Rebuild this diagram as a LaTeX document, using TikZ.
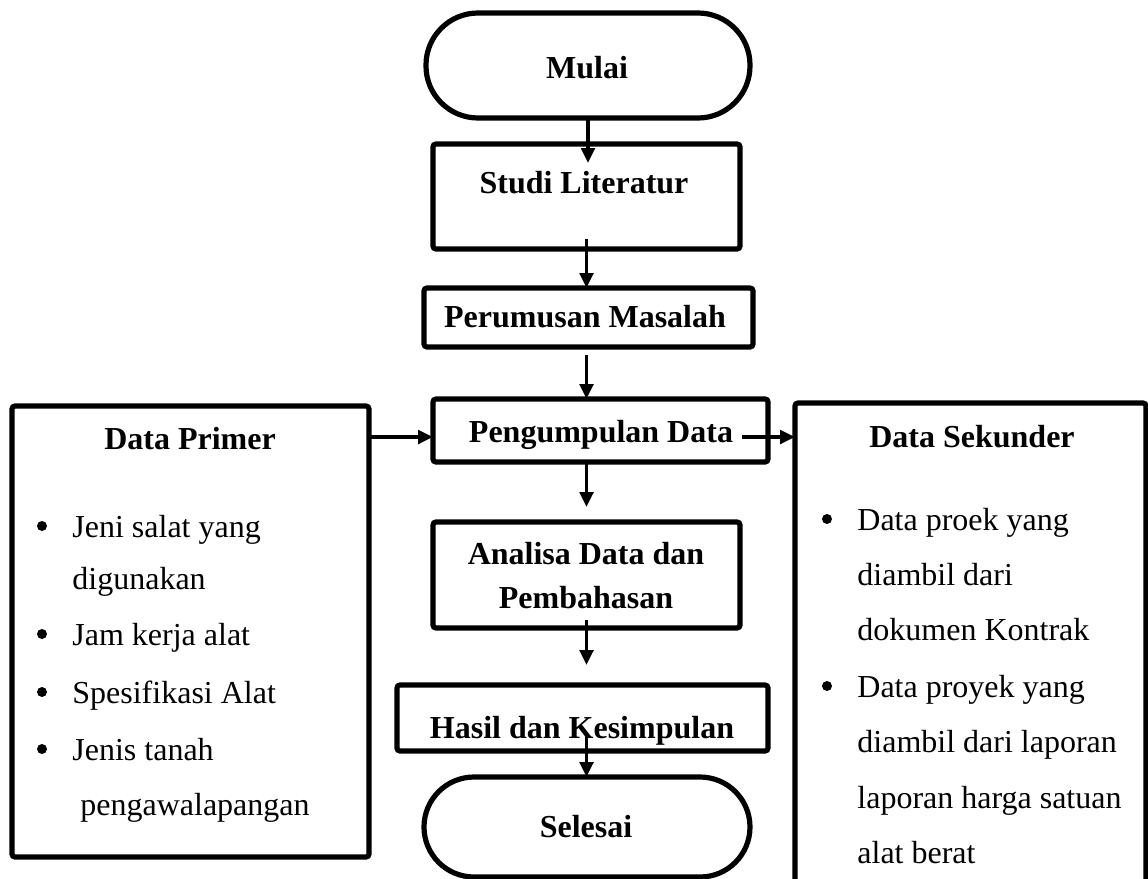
\documentclass[tikz,border=0pt]{standalone}
\usepackage{fontspec}
\setmainfont{Liberation Serif}
\usetikzlibrary{arrows.meta,calc}
\begin{document}
\begin{tikzpicture}[x=0.5pt,y=-0.5pt,
  box/.style={draw=black,line width=2.6pt,rounded corners=1.5pt,inner sep=0pt,outer sep=0pt,fill=white},
  term/.style={draw=black,line width=2.6pt,rounded corners=26pt,inner sep=0pt,outer sep=0pt,fill=white},
  arr/.style={draw=black,line width=1.8pt,-{Triangle[length=7.5pt,width=6.8pt]}},
  ttl/.style={font=\fontsize{16}{19}\selectfont\bfseries,anchor=base,inner sep=0pt},
  itm/.style={font=\fontsize{16}{19}\selectfont,anchor=base west,inner sep=0pt},
  bul/.style={circle,fill=black,inner sep=0pt,minimum size=5pt}]
\useasboundingbox (0,0) rectangle (1148,879);
\clip (0,0) rectangle (1148,879);
\fill[white] (0,0) rectangle (1148,879);
% boxes
\node[term,minimum width=162pt,minimum height=52.5pt] (mulai) at (588,65.5) {};
\node[box,minimum width=153.5pt,minimum height=52.5pt] (studi) at (586.5,196.5) {};
\node[box,minimum width=164.5pt,minimum height=29.5pt] (perum) at (588.5,317.5) {};
\node[box,minimum width=167.5pt,minimum height=31.5pt] (pengum) at (600.5,430.5) {};
\node[box,minimum width=153.5pt,minimum height=53pt] (analisa) at (586.5,575) {};
\node[box,minimum width=185.5pt,minimum height=33pt] (hasil) at (582.5,718) {};
\node[term,minimum width=163pt,minimum height=50pt,rounded corners=25pt] (selesai) at (587,827) {};
\node[box,minimum width=178.5pt,minimum height=225.5pt] (primer) at (190.5,631.5) {};
\node[box,minimum width=175.5pt,minimum height=248.5pt] (sekunder) at (970.5,651.5) {};
% titles
\node[ttl] (mulaiT) at (587,78) {Mulai};
\node[ttl] (studiT) at (584,193) {Studi Literatur};
\node[ttl] (perumT) at (585,327) {Perumusan Masalah};
\node[ttl] (pengumT) at (601,442) {Pengumpulan Data};
\node[ttl] (analisaT1) at (586,564) {Analisa Data dan};
\node[ttl] (analisaT2) at (586,608) {Pembahasan};
\node[ttl] (hasilT) at (582,738) {Hasil dan Kesimpulan};
\node[ttl] (selesaiT) at (586,837) {Selesai};
\node[ttl] (primerT) at (190,449) {Data Primer};
\node[ttl] (sekT) at (972,447) {Data Sekunder};
% primer list
\node[bul] (pb1) at (42,526) {};
\node[bul] (pb2) at (42,634) {};
\node[bul] (pb3) at (42,692) {};
\node[bul] (pb4) at (42,749) {};
\node[itm] (p1) at (72,537) {Jeni salat yang};
\node[itm] (p2) at (72,589) {digunakan};
\node[itm] (p3) at (72,645) {Jam kerja alat};
\node[itm] (p4) at (72,703) {Spesifikasi Alat};
\node[itm] (p5) at (72,760) {Jenis tanah};
\node[itm] (p6) at (80,815) {pengawalapangan};
% sekunder list
\node[bul] (sb1) at (827,519) {};
\node[bul] (sb2) at (827,686) {};
\node[itm] (s1) at (857,530) {Data proek yang};
\node[itm] (s2) at (857,585) {diambil dari};
\node[itm] (s3) at (857,640) {dokumen Kontrak};
\node[itm] (s4) at (857,697) {Data proyek yang};
\node[itm] (s5) at (857,752) {diambil dari laporan};
\node[itm] (s6) at (857,808) {laporan harga satuan};
\node[itm] (s7) at (857,863) {alat berat};
% connectors
\coordinate (pinL) at ([yshift=-3.25pt]pengum.west);
\coordinate (pinR) at ([yshift=-3.25pt,xshift=-13pt]pengum.east);
\draw[arr] (mulai.south) -- ([yshift=-9.5pt]mulai.south |- studi.north);
\draw[arr] ([yshift=5pt]studi.south) -- (studi.south |- perum.north);
\draw[arr] ([yshift=-4pt]perum.south -| studi.south) -- (studi.south |- pengum.north);
\draw[arr] (studi.south |- pengum.south) -- ([yshift=7.5pt]analisa.north);
\draw[arr] ([yshift=4pt]analisa.south) -- ([yshift=10pt]analisa.south |- hasil.north);
\draw[arr] ([yshift=9pt]analisa.south |- hasil.south) -- (analisa.south |- selesai.north);
\draw[arr] (pinL -| primer.east) -- (pinL);
\draw[arr] (pinR) -- (pinR -| sekunder.west);
\end{tikzpicture}
\end{document}
